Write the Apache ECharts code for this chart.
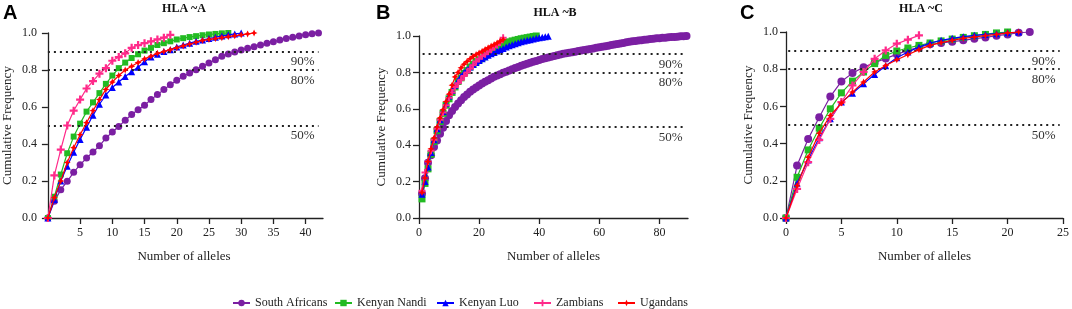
<!DOCTYPE html>
<html><head><meta charset="utf-8">
<script src="https://cdn.jsdelivr.net/npm/echarts@6/dist/echarts.min.js"></script>
<style>html,body{margin:0;padding:0;background:#fff}#c{width:1072px;height:309px}</style>
</head><body><div id="c"></div>
<script>
// ---------------- DATA ----------------
const seriesNames = ['South Africans', 'Kenyan Nandi', 'Kenyan Luo', 'Zambians', 'Ugandans'];
const panelTitles = ['HLA ~A', 'HLA ~B', 'HLA ~C'];
const panelLetters = ['A', 'B', 'C'];
const refLevels = [0.9, 0.8, 0.5];
const refLabels = ['90%', '80%', '50%'];
const yTicks = [0, 0.2, 0.4, 0.6, 0.8, 1.0];
const xTicksA = [5, 10, 15, 20, 25, 30, 35, 40];
const xTicksB = [0, 20, 40, 60, 80];
const xTicksC = [0, 5, 10, 15, 20, 25];
// first allele count of each curve, per panel
const firstXA = [0, 0, 0, 0, 0];
const firstXB = [1, 1, 1, 1, 1];
const firstXC = [0, 0, 0, 0, 0];

// HLA-A cumulative frequencies
const a_SouthAfricans = [0, 0.09, 0.153, 0.198, 0.247, 0.288, 0.324, 0.357, 0.39, 0.432, 0.465, 0.495, 0.528, 0.559, 0.585, 0.61, 0.64, 0.667, 0.694, 0.72, 0.744, 0.766, 0.784, 0.802, 0.82, 0.838, 0.856, 0.874, 0.887, 0.897, 0.908, 0.917, 0.926, 0.935, 0.944, 0.953, 0.962, 0.97, 0.977, 0.984, 0.991, 0.996, 1.0];
const a_KenyanNandi = [0, 0.115, 0.235, 0.35, 0.44, 0.51, 0.575, 0.625, 0.675, 0.725, 0.77, 0.81, 0.84, 0.865, 0.885, 0.905, 0.92, 0.935, 0.945, 0.955, 0.965, 0.972, 0.978, 0.983, 0.988, 0.992, 0.995, 0.998, 1.0];
const a_KenyanLuo = [0, 0.1, 0.2, 0.28, 0.355, 0.425, 0.49, 0.555, 0.615, 0.665, 0.705, 0.735, 0.765, 0.79, 0.815, 0.845, 0.87, 0.885, 0.9, 0.91, 0.925, 0.935, 0.945, 0.955, 0.962, 0.97, 0.977, 0.984, 0.99, 0.995, 1.0];
const a_Zambians = [0, 0.23, 0.37, 0.5, 0.58, 0.64, 0.7, 0.74, 0.78, 0.81, 0.85, 0.87, 0.89, 0.92, 0.935, 0.945, 0.955, 0.965, 0.975, 0.99];
const a_Ugandans = [0, 0.11, 0.2, 0.3, 0.38, 0.45, 0.515, 0.58, 0.64, 0.695, 0.735, 0.77, 0.8, 0.82, 0.84, 0.86, 0.875, 0.89, 0.9, 0.91, 0.92, 0.93, 0.94, 0.95, 0.96, 0.965, 0.97, 0.975, 0.98, 0.985, 0.99, 0.995, 1.0];

// HLA-B cumulative frequencies
const b_SouthAfricans = [0.133, 0.219, 0.303, 0.345, 0.39, 0.426, 0.463, 0.496, 0.533, 0.564, 0.588, 0.61, 0.629, 0.647, 0.665, 0.678, 0.693, 0.706, 0.717, 0.728, 0.739, 0.748, 0.757, 0.767, 0.776, 0.783, 0.79, 0.798, 0.803, 0.81, 0.817, 0.824, 0.83, 0.836, 0.842, 0.848, 0.853, 0.858, 0.863, 0.868, 0.873, 0.878, 0.882, 0.886, 0.89, 0.894, 0.898, 0.902, 0.905, 0.908, 0.911, 0.914, 0.917, 0.92, 0.923, 0.926, 0.929, 0.932, 0.935, 0.938, 0.941, 0.944, 0.947, 0.95, 0.953, 0.956, 0.959, 0.962, 0.965, 0.968, 0.971, 0.973, 0.975, 0.977, 0.979, 0.981, 0.983, 0.985, 0.987, 0.988, 0.99, 0.991, 0.993, 0.994, 0.995, 0.996, 0.998, 0.999, 1.0];
const b_KenyanNandi = [0.105, 0.19, 0.27, 0.35, 0.42, 0.48, 0.53, 0.575, 0.62, 0.655, 0.69, 0.72, 0.75, 0.77, 0.795, 0.81, 0.83, 0.845, 0.86, 0.87, 0.88, 0.893, 0.905, 0.913, 0.923, 0.93, 0.94, 0.955, 0.962, 0.968, 0.973, 0.977, 0.981, 0.985, 0.988, 0.991, 0.994, 0.997, 1.0];
const b_KenyanLuo = [0.13, 0.2, 0.28, 0.36, 0.43, 0.49, 0.54, 0.585, 0.63, 0.67, 0.7, 0.73, 0.755, 0.78, 0.8, 0.815, 0.83, 0.843, 0.855, 0.865, 0.875, 0.885, 0.894, 0.902, 0.91, 0.918, 0.925, 0.932, 0.94, 0.946, 0.952, 0.958, 0.963, 0.968, 0.972, 0.976, 0.98, 0.984, 0.987, 0.99, 0.993, 0.996, 0.998];
const b_Zambians = [0.15, 0.25, 0.31, 0.37, 0.43, 0.49, 0.54, 0.58, 0.62, 0.66, 0.69, 0.72, 0.74, 0.76, 0.78, 0.8, 0.82, 0.84, 0.86, 0.875, 0.89, 0.9, 0.915, 0.925, 0.94, 0.95, 0.965, 0.99];
const b_Ugandans = [0.14, 0.22, 0.31, 0.38, 0.44, 0.5, 0.55, 0.595, 0.64, 0.68, 0.73, 0.775, 0.8, 0.825, 0.845, 0.86, 0.875, 0.888, 0.898, 0.907, 0.916, 0.926, 0.935, 0.945, 0.953, 0.962, 0.972, 0.98];

// HLA-C cumulative frequencies
const c_SouthAfricans = [0, 0.282, 0.425, 0.542, 0.653, 0.734, 0.779, 0.811, 0.835, 0.858, 0.88, 0.901, 0.917, 0.934, 0.941, 0.948, 0.955, 0.964, 0.971, 0.98, 0.987, 0.996, 1.0];
const c_KenyanNandi = [0, 0.219, 0.366, 0.483, 0.587, 0.673, 0.736, 0.785, 0.83, 0.874, 0.898, 0.914, 0.928, 0.941, 0.952, 0.962, 0.971, 0.98, 0.987, 0.995, 1.0];
const c_KenyanLuo = [0, 0.187, 0.312, 0.431, 0.533, 0.623, 0.671, 0.722, 0.772, 0.819, 0.862, 0.892, 0.919, 0.941, 0.955, 0.966, 0.975, 0.982, 0.987, 0.991, 0.996, 1.0];
const c_Zambians = [0, 0.156, 0.3, 0.42, 0.533, 0.623, 0.713, 0.785, 0.856, 0.901, 0.937, 0.959, 0.982];
const c_Ugandans = [0, 0.174, 0.327, 0.456, 0.551, 0.618, 0.677, 0.731, 0.785, 0.82, 0.851, 0.878, 0.905, 0.928, 0.943, 0.955, 0.966, 0.973, 0.98, 0.987, 0.995, 1.0];

// ---------------- STYLE / LAYOUT ----------------
const SERIF = "'Liberation Serif','Times New Roman',serif";
const SANS = "'Liberation Sans',Arial,sans-serif";
const colors = ['#7B1FA2', '#22BB22', '#0000FF', '#FF2A8A', '#FF0000'];
const plusPath = 'path://M3.6,0H6.4V3.6H10V6.4H6.4V10H3.6V6.4H0V3.6H3.6Z';
const starPath = 'path://M5,0L6.6,3.4L10,5L6.6,6.6L5,10L3.4,6.6L0,5L3.4,3.4Z';
const symbols = ['circle', 'rect', 'triangle', plusPath, starPath];
const symbolSizes = [
  [7, 6, 7, 8, 7],
  [8, 7, 7, 7, 7],
  [8, 7, 7, 8, 7]
];

const panels = [
  { data: [a_SouthAfricans, a_KenyanNandi, a_KenyanLuo, a_Zambians, a_Ugandans], first: firstXA,
    grid: { left: 45, top: 33, width: 278, height: 185 }, xmin: -0.45, xmax: 42.7, xticks: xTicksA,
    refX: [0, 42], titleX: 184, titleTop: 3, letterX: 3 },
  { data: [b_SouthAfricans, b_KenyanNandi, b_KenyanLuo, b_Zambians, b_Ugandans], first: firstXB,
    grid: { left: 419, top: 36, width: 269, height: 182 }, xmin: 0, xmax: 89.5, xticks: xTicksB,
    refX: [1.2, 89], titleX: 555, titleTop: 7, letterX: 376 },
  { data: [c_SouthAfricans, c_KenyanNandi, c_KenyanLuo, c_Zambians, c_Ugandans], first: firstXC,
    grid: { left: 786, top: 32, width: 279, height: 186 }, xmin: 0, xmax: 25, xticks: xTicksC,
    refX: [0.2, 24.7], titleX: 921, titleTop: 3, letterX: 740 }
];

const axisColor = '#222';
const grids = [], xAxes = [], yAxes = [], series = [], titles = [];
panels.forEach((p, pi) => {
  grids.push(p.grid);
  xAxes.push({
    type: 'value', gridIndex: pi, min: p.xmin, max: p.xmax,
    name: 'Number of alleles', nameLocation: 'middle', nameGap: 32,
    nameTextStyle: { fontFamily: SERIF, fontSize: 13, color: '#222' },
    axisLine: { show: true, onZero: false, lineStyle: { color: axisColor, width: 1.3 } },
    axisTick: { show: true, length: 6, customValues: p.xticks, lineStyle: { color: axisColor, width: 1.3 } },
    axisLabel: { customValues: p.xticks, fontFamily: SERIF, fontSize: 12, color: '#222', margin: 9 },
    splitLine: { show: false }
  });
  yAxes.push({
    type: 'value', gridIndex: pi, min: 0, max: 1, interval: 0.2,
    name: 'Cumulative Frequency', nameLocation: 'middle', nameGap: 31,
    nameTextStyle: { fontFamily: SERIF, fontSize: 13, color: '#222' },
    axisLine: { show: true, lineStyle: { color: axisColor, width: 1.3 } },
    axisTick: { show: true, length: 6, lineStyle: { color: axisColor, width: 1.3 } },
    axisLabel: { fontFamily: SERIF, fontSize: 12, color: '#222', margin: 8, formatter: v => v.toFixed(1) },
    splitLine: { show: false }
  });
  titles.push({ text: panelTitles[pi], left: p.titleX, top: p.titleTop, textAlign: 'center', padding: 0,
    textStyle: { fontFamily: SERIF, fontSize: 12, fontWeight: 'bold', color: '#111' } });
  titles.push({ text: panelLetters[pi], left: p.letterX, top: 3, padding: 0,
    textStyle: { fontFamily: SANS, fontSize: 20, fontWeight: 'bold', color: '#000' } });

  p.data.forEach((ys, si) => {
    const s = {
      type: 'line', name: seriesNames[si], xAxisIndex: pi, yAxisIndex: pi,
      data: ys.map((y, i) => [p.first[si] + i, y]),
      symbol: symbols[si], symbolSize: symbolSizes[pi][si],
      showAllSymbol: true,
      lineStyle: { color: colors[si], width: 1.2 },
      itemStyle: { color: colors[si], borderWidth: 0 },
      z: 2 + si
    };
    if (si === 0) {
      s.markLine = {
        silent: true, symbol: ['none', 'none'],
        lineStyle: { color: '#222', width: 2, type: [2, 4] },
        label: { show: true, position: 'insideEndBottom', formatter: '{b}', fontFamily: SERIF, fontSize: 13, color: '#333', distance: 4 },
        data: refLevels.map((lv, k) => [{ coord: [p.refX[0], lv], name: refLabels[k] }, { coord: [p.refX[1], lv] }])
      };
    }
    series.push(s);
  });
});

const legendLefts = [227, 329, 431, 528, 612];
const legends = seriesNames.map((n, i) => ({
  data: [n], left: legendLefts[i], top: 292, itemWidth: 17, itemHeight: 8, itemGap: 5,
  textStyle: { fontFamily: SERIF, fontSize: 12, color: '#222' }, selectedMode: false
}));

const chart = echarts.init(document.getElementById('c'), null, { renderer: 'canvas' });
chart.setOption({
  animation: false,
  backgroundColor: '#fff',
  title: titles,
  legend: legends,
  grid: grids,
  xAxis: xAxes,
  yAxis: yAxes,
  series: series
});
</script></body></html>
